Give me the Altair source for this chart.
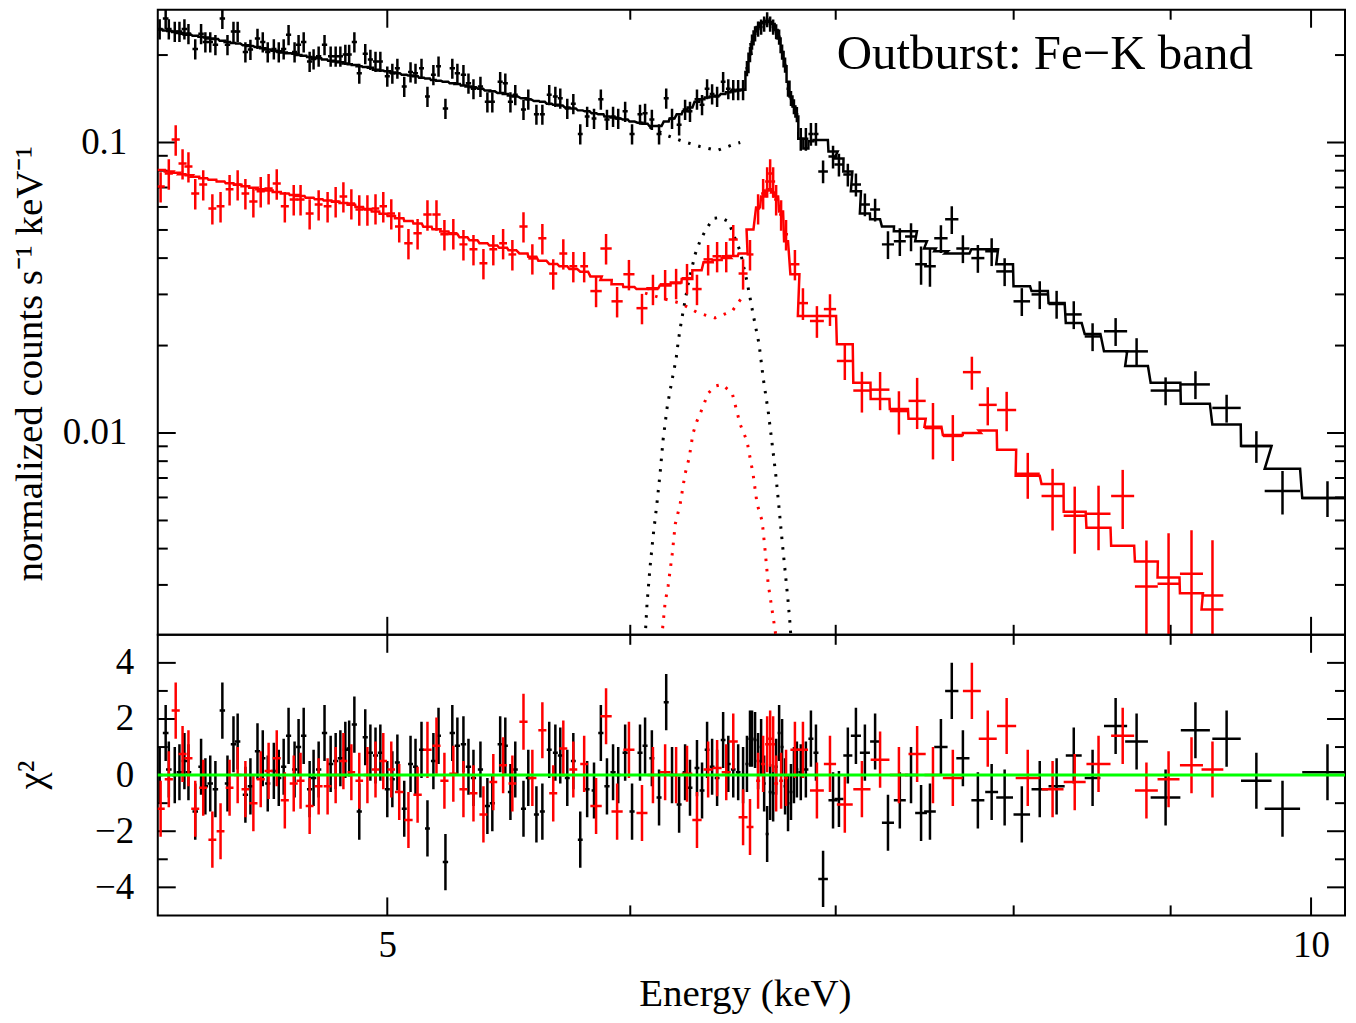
import altair as alt
import pandas as pd

FONT = "Liberation Serif"
W = 1189
HT = 626
HR = 281

# ---------------- black data set (energy keV, half width, flux, rel. error, model, chi) ----------------
black_e = [
    4.215, 4.234, 4.244, 4.263, 4.278, 4.294, 4.307, 4.329, 4.348, 4.362,
    4.378, 4.395, 4.418, 4.435, 4.455, 4.469, 4.495, 4.512, 4.536, 4.554,
    4.571, 4.592, 4.609, 4.626, 4.643, 4.664, 4.678, 4.696, 4.717, 4.731,
    4.749, 4.770, 4.792, 4.810, 4.827, 4.845, 4.859, 4.878, 4.896, 4.918,
    4.937, 4.956, 4.974, 5.000, 5.019, 5.038, 5.064, 5.088, 5.107, 5.130,
    5.153, 5.176, 5.196, 5.223, 5.250, 5.270, 5.294, 5.314, 5.334, 5.362,
    5.390, 5.410, 5.442, 5.463, 5.484, 5.504, 5.538, 5.558, 5.592, 5.617,
    5.646, 5.672, 5.693, 5.723, 5.749, 5.779, 5.809, 5.839, 5.869, 5.896,
    5.923, 5.946, 5.977, 6.008, 6.044, 6.067, 6.098, 6.131, 6.164, 6.191,
    6.224, 6.252, 6.275, 6.308, 6.332, 6.356, 6.380, 6.404, 6.433, 6.458,
    6.482, 6.506, 6.530, 6.549, 6.564, 6.574, 6.589, 6.604, 6.619, 6.634,
    6.649, 6.664, 6.679, 6.694, 6.709, 6.724, 6.739, 6.754, 6.769, 6.784,
    6.799, 6.819, 6.845, 6.871, 6.897, 6.934, 6.986, 7.017, 7.064, 7.107,
    7.155, 7.210, 7.280, 7.345, 7.407, 7.463, 7.513, 7.575, 7.637, 7.701,
    7.788, 7.869, 7.946, 8.049, 8.158, 8.262, 8.369, 8.488, 8.636, 8.773,
    8.966, 9.169, 9.386, 9.598, 9.788, 10.124,
]
black_de = [
    0.009, 0.009, 0.009, 0.009, 0.009, 0.009, 0.009, 0.009, 0.009, 0.009,
    0.009, 0.009, 0.009, 0.009, 0.009, 0.009, 0.009, 0.009, 0.009, 0.009,
    0.009, 0.009, 0.009, 0.009, 0.009, 0.009, 0.009, 0.0095, 0.0095, 0.0095,
    0.0095, 0.0095, 0.0095, 0.0095, 0.0095, 0.0095, 0.0095, 0.0095, 0.0095, 0.0095,
    0.0095, 0.0095, 0.0095, 0.0095, 0.0095, 0.0095, 0.0095, 0.0095, 0.0095, 0.0095,
    0.0095, 0.0095, 0.0095, 0.0105, 0.0105, 0.0105, 0.0105, 0.0105, 0.0105, 0.0105,
    0.0105, 0.0105, 0.0105, 0.0105, 0.0105, 0.0105, 0.0105, 0.0105, 0.0105, 0.0105,
    0.0105, 0.0105, 0.0105, 0.0105, 0.0105, 0.0105, 0.0105, 0.0105, 0.0115, 0.0115,
    0.0115, 0.0115, 0.0115, 0.0115, 0.0115, 0.0115, 0.0115, 0.0115, 0.0115, 0.0115,
    0.0115, 0.0115, 0.0115, 0.0115, 0.0115, 0.0115, 0.0115, 0.0115, 0.0115, 0.0115,
    0.0115, 0.0115, 0.0115, 0.0075, 0.0075, 0.0075, 0.0075, 0.0075, 0.0075, 0.0075,
    0.0075, 0.0075, 0.0075, 0.0075, 0.0075, 0.0075, 0.0075, 0.0075, 0.0075, 0.0075,
    0.0075, 0.013, 0.013, 0.013, 0.013, 0.025, 0.024, 0.024, 0.024, 0.027,
    0.027, 0.027, 0.033, 0.033, 0.033, 0.033, 0.033, 0.038, 0.038, 0.038,
    0.038, 0.038, 0.05, 0.05, 0.05, 0.05, 0.05, 0.05, 0.075, 0.075,
    0.10, 0.10, 0.10, 0.11, 0.13, 0.19,
]
black_flux = [
    0.246, 0.267, 0.246, 0.241, 0.241, 0.246, 0.237, 0.210, 0.237, 0.222,
    0.222, 0.217, 0.267, 0.217, 0.241, 0.241, 0.205, 0.209, 0.228, 0.222,
    0.205, 0.210, 0.205, 0.210, 0.235, 0.205, 0.217, 0.222, 0.190, 0.194,
    0.198, 0.217, 0.198, 0.198, 0.198, 0.201, 0.201, 0.222, 0.173, 0.202,
    0.193, 0.190, 0.190, 0.169, 0.173, 0.180, 0.156, 0.175, 0.173, 0.180,
    0.144, 0.171, 0.183, 0.131, 0.180, 0.173, 0.171, 0.160, 0.153, 0.156,
    0.138, 0.138, 0.162, 0.160, 0.138, 0.146, 0.130, 0.141, 0.125, 0.125,
    0.146, 0.144, 0.142, 0.131, 0.136, 0.107, 0.123, 0.121, 0.141, 0.120,
    0.123, 0.121, 0.128, 0.107, 0.125, 0.126, 0.120, 0.107, 0.142, 0.121,
    0.115, 0.130, 0.128, 0.141, 0.135, 0.153, 0.147, 0.144, 0.162, 0.153,
    0.152, 0.152, 0.152, 0.180, 0.201, 0.222, 0.237, 0.246, 0.250, 0.256,
    0.265, 0.256, 0.250, 0.241, 0.231, 0.205, 0.185, 0.153, 0.142, 0.133,
    0.125, 0.103, 0.103, 0.107, 0.107, 0.0795, 0.0895, 0.084, 0.0776, 0.0717,
    0.0612, 0.0588, 0.0446, 0.0457, 0.0475, 0.0381, 0.0375, 0.0468, 0.0544, 0.0432,
    0.0400, 0.0422, 0.0360, 0.0284, 0.0300, 0.0278, 0.0256, 0.0215, 0.0224, 0.0191,
    0.0140, 0.0147, 0.0122, 0.00902, 0.00632, 0.00598,
]
black_rel = [
    0.08, 0.08, 0.08, 0.08, 0.08, 0.08, 0.08, 0.08, 0.08, 0.08,
    0.08, 0.08, 0.08, 0.08, 0.08, 0.08, 0.08, 0.08, 0.08, 0.08,
    0.08, 0.08, 0.08, 0.08, 0.08, 0.08, 0.08, 0.08, 0.08, 0.08,
    0.08, 0.08, 0.08, 0.08, 0.08, 0.08, 0.08, 0.08, 0.08, 0.08,
    0.08, 0.08, 0.08, 0.08, 0.08, 0.08, 0.08, 0.08, 0.08, 0.08,
    0.08, 0.08, 0.08, 0.08, 0.08, 0.08, 0.08, 0.08, 0.08, 0.08,
    0.08, 0.08, 0.08, 0.08, 0.08, 0.08, 0.08, 0.08, 0.08, 0.08,
    0.08, 0.08, 0.08, 0.08, 0.08, 0.08, 0.08, 0.08, 0.08, 0.08,
    0.08, 0.08, 0.08, 0.08, 0.08, 0.08, 0.08, 0.08, 0.08, 0.08,
    0.08, 0.08, 0.08, 0.08, 0.08, 0.08, 0.08, 0.08, 0.08, 0.08,
    0.08, 0.08, 0.08, 0.06, 0.06, 0.06, 0.06, 0.06, 0.06, 0.06,
    0.06, 0.06, 0.06, 0.06, 0.06, 0.06, 0.06, 0.06, 0.06, 0.06,
    0.06, 0.09, 0.09, 0.09, 0.09, 0.09, 0.09, 0.09, 0.09, 0.09,
    0.09, 0.09, 0.11, 0.11, 0.11, 0.15, 0.15, 0.11, 0.11, 0.11,
    0.11, 0.11, 0.11, 0.11, 0.11, 0.11, 0.11, 0.11, 0.11, 0.11,
    0.11, 0.11, 0.11, 0.125, 0.17, 0.14,
]
black_model = [
    0.245, 0.243, 0.242, 0.240, 0.238, 0.237, 0.235, 0.233, 0.231, 0.230,
    0.228, 0.227, 0.224, 0.222, 0.220, 0.219, 0.216, 0.215, 0.213, 0.211,
    0.209, 0.207, 0.206, 0.204, 0.203, 0.202, 0.200, 0.199, 0.197, 0.196,
    0.195, 0.193, 0.191, 0.190, 0.189, 0.187, 0.186, 0.185, 0.183, 0.182,
    0.181, 0.178, 0.177, 0.176, 0.174, 0.173, 0.171, 0.170, 0.169, 0.167,
    0.166, 0.164, 0.163, 0.162, 0.160, 0.159, 0.157, 0.156, 0.155, 0.153,
    0.151, 0.150, 0.148, 0.147, 0.145, 0.144, 0.142, 0.141, 0.139, 0.138,
    0.136, 0.135, 0.134, 0.132, 0.131, 0.129, 0.128, 0.126, 0.125, 0.123,
    0.122, 0.121, 0.120, 0.118, 0.117, 0.116, 0.114, 0.114, 0.118, 0.121,
    0.125, 0.128, 0.132, 0.138, 0.141, 0.143, 0.144, 0.145, 0.147, 0.149,
    0.150, 0.151, 0.152, 0.175, 0.202, 0.218, 0.241, 0.250, 0.258, 0.260,
    0.262, 0.260, 0.256, 0.244, 0.228, 0.205, 0.183, 0.162, 0.144, 0.133,
    0.123, 0.103, 0.0954, 0.101, 0.102, 0.102, 0.0931, 0.0881, 0.0795, 0.0679,
    0.0570, 0.0544, 0.0514, 0.0495, 0.0495, 0.0457, 0.0432, 0.0422, 0.0415, 0.0415,
    0.0429, 0.0429, 0.0381, 0.0320, 0.0308, 0.0280, 0.0239, 0.0219, 0.0191, 0.0170,
    0.0149, 0.0126, 0.0107, 0.00902, 0.00753, 0.00598,
]
black_chi = [
    0.0, 1.5, 0.2, 0.0, 0.1, 0.5, 0.1, -1.3, 0.3, -0.4,
    -0.3, -0.5, 2.3, -0.3, 1.1, 1.2, -0.7, -0.4, 0.85, 0.6,
    -0.3, 0.15, -0.1, 0.3, 1.4, 0.2, 1.0, 1.4, -0.5, -0.1,
    0.2, 1.5, 0.4, 0.5, 0.6, 0.9, 0.95, 1.8, -1.3, 1.35,
    0.8, 0.7, 0.8, -0.5, -0.15, 0.45, -1.2, 0.4, 0.3, 0.9,
    -1.9, 0.5, 1.4, -3.1, 1.5, 1.05, 1.1, 0.3, -0.1, 0.2,
    -1.1, -1.0, 1.1, 1.05, -0.6, 0.2, -1.2, -0.1, -1.4, -1.3,
    0.9, 0.8, 0.7, -0.1, 0.5, -2.3, -0.5, -0.55, 1.5, -0.4,
    0.1, 0.0, 0.8, -1.3, 0.8, 1.05, 0.6, -0.8, 2.6, 0.0,
    -1.05, 0.1, -0.45, 0.25, -0.55, 0.9, 0.3, -0.1, 1.25, 0.4,
    0.2, 0.1, 0.0, 0.4, 1.3, 1.3, 1.25, 0.5, 1.0, -0.3,
    -2.1, -0.6, -0.65, 0.3, 1.5, 1.0, -0.4, -1.0, -0.6, 0.0,
    0.2, 0.1, 0.2, 1.3, 0.8, -3.7, -0.9, -0.85, 0.7, 1.4,
    0.8, 1.2, -1.7, -0.9, 0.0, -1.35, -1.3, 1.0, 3.0, 0.6,
    -0.9, -0.6, -0.8, -1.4, -0.5, -0.4, 0.7, -0.1, 1.75, 1.2,
    -0.8, 1.6, 1.3, -0.2, -1.2, 0.1,
]

# ---------------- red data set ----------------
red_e = [
    4.218, 4.244, 4.266, 4.288, 4.307, 4.329, 4.355, 4.385, 4.412, 4.442,
    4.469, 4.495, 4.522, 4.547, 4.574, 4.602, 4.630, 4.661, 4.685, 4.717,
    4.749, 4.781, 4.810, 4.838, 4.867, 4.896, 4.926, 4.956, 4.985, 5.015,
    5.045, 5.080, 5.115, 5.153, 5.188, 5.219, 5.254, 5.294, 5.334, 5.374,
    5.414, 5.454, 5.492, 5.538, 5.575, 5.617, 5.663, 5.706, 5.749, 5.796,
    5.848, 5.892, 5.941, 5.994, 6.053, 6.103, 6.159, 6.210, 6.261, 6.308,
    6.361, 6.404, 6.448, 6.482, 6.530, 6.564, 6.604, 6.629, 6.649, 6.664,
    6.679, 6.694, 6.719, 6.744, 6.789, 6.830, 6.902, 6.970, 7.048, 7.139,
    7.237, 7.340, 7.441, 7.530, 7.643, 7.753, 7.846, 7.958, 8.085, 8.237,
    8.375, 8.526, 8.682, 8.838, 8.986, 9.142, 9.287,
]
red_de = [
    0.013, 0.013, 0.013, 0.013, 0.013, 0.013, 0.013, 0.013, 0.013, 0.013,
    0.013, 0.013, 0.014, 0.014, 0.014, 0.014, 0.014, 0.014, 0.014, 0.014,
    0.014, 0.014, 0.014, 0.014, 0.014, 0.014, 0.014, 0.014, 0.014, 0.014,
    0.016, 0.016, 0.016, 0.016, 0.016, 0.016, 0.016, 0.016, 0.016, 0.016,
    0.016, 0.016, 0.016, 0.017, 0.017, 0.017, 0.017, 0.017, 0.017, 0.017,
    0.025, 0.025, 0.025, 0.025, 0.025, 0.025, 0.025, 0.025, 0.025, 0.022,
    0.022, 0.022, 0.022, 0.022, 0.022, 0.017, 0.010, 0.010, 0.010, 0.010,
    0.010, 0.010, 0.010, 0.010, 0.023, 0.026, 0.036, 0.032, 0.042, 0.046,
    0.051, 0.050, 0.048, 0.048, 0.057, 0.052, 0.053, 0.057, 0.073, 0.068,
    0.069, 0.077, 0.075, 0.076, 0.074, 0.079, 0.076,
]
red_flux = [
    0.0706, 0.0782, 0.1024, 0.0847, 0.0827, 0.0668, 0.0717, 0.0593, 0.0603, 0.0690,
    0.0717, 0.0668, 0.0627, 0.0679, 0.0695, 0.0722, 0.0603, 0.0637, 0.0637, 0.0570,
    0.0612, 0.0603, 0.0627, 0.0652, 0.0617, 0.0588, 0.0588, 0.0593, 0.0603, 0.0570,
    0.0514, 0.0450, 0.0487, 0.0565, 0.0565, 0.0483, 0.0487, 0.0446, 0.0429, 0.0384,
    0.0429, 0.0450, 0.0412, 0.0514, 0.0399, 0.0468, 0.0354, 0.0415, 0.0375, 0.0375,
    0.0308, 0.0432, 0.0284, 0.0352, 0.0269, 0.0313, 0.0325, 0.0328, 0.0341, 0.0313,
    0.0396, 0.0406, 0.0406, 0.0464, 0.0354, 0.0412, 0.0593, 0.0668, 0.0734, 0.0782,
    0.0734, 0.0637, 0.0565, 0.0483, 0.0381, 0.0280, 0.0243, 0.0267, 0.0177, 0.0140,
    0.0141, 0.0119, 0.0129, 0.0104, 0.00977, 0.0162, 0.0125, 0.0120, 0.00724, 0.00607,
    0.00519, 0.00527, 0.00607, 0.00296, 0.00303, 0.00328, 0.00276,
]
red_rel = [
    0.12, 0.12, 0.12, 0.12, 0.12, 0.12, 0.12, 0.12, 0.12, 0.12,
    0.12, 0.12, 0.12, 0.12, 0.12, 0.12, 0.12, 0.12, 0.12, 0.12,
    0.12, 0.12, 0.12, 0.12, 0.12, 0.12, 0.12, 0.12, 0.12, 0.12,
    0.12, 0.12, 0.12, 0.12, 0.12, 0.12, 0.12, 0.12, 0.12, 0.12,
    0.12, 0.12, 0.12, 0.12, 0.12, 0.12, 0.12, 0.12, 0.12, 0.12,
    0.12, 0.12, 0.12, 0.12, 0.12, 0.12, 0.12, 0.12, 0.12, 0.12,
    0.12, 0.12, 0.12, 0.12, 0.12, 0.12, 0.12, 0.12, 0.12, 0.12,
    0.12, 0.12, 0.12, 0.12, 0.12, 0.125, 0.125, 0.125, 0.14, 0.16,
    0.15, 0.17, 0.20, 0.22, 0.18, 0.13, 0.15, 0.155, 0.18, 0.24,
    0.26, 0.25, 0.23, 0.44, 0.49, 0.41, 0.55,
]
red_model = [
    0.0804, 0.0795, 0.0787, 0.0778, 0.0771, 0.0763, 0.0754, 0.0744, 0.0734, 0.0724,
    0.0715, 0.0707, 0.0699, 0.0691, 0.0683, 0.0675, 0.0667, 0.0660, 0.0654, 0.0646,
    0.0638, 0.0631, 0.0625, 0.0619, 0.0611, 0.0600, 0.0590, 0.0579, 0.0569, 0.0559,
    0.0549, 0.0537, 0.0526, 0.0513, 0.0503, 0.0494, 0.0484, 0.0472, 0.0461, 0.0450,
    0.0442, 0.0434, 0.0426, 0.0415, 0.0404, 0.0392, 0.0382, 0.0375, 0.0367, 0.0359,
    0.0346, 0.0336, 0.0325, 0.0318, 0.0313, 0.0315, 0.0322, 0.0330, 0.0339, 0.0363,
    0.0387, 0.0394, 0.0400, 0.0407, 0.0415, 0.0502, 0.0598, 0.0652, 0.0684, 0.0690,
    0.0673, 0.0652, 0.0579, 0.0457, 0.0352, 0.0253, 0.0253, 0.0253, 0.0202, 0.0149,
    0.0131, 0.0121, 0.0112, 0.0105, 0.00985, 0.0100, 0.0102, 0.00875, 0.00712, 0.00668,
    0.00536, 0.00472, 0.00409, 0.00361, 0.00318, 0.00281, 0.00247,
]
red_chi = [
    -1.2, -0.15, 2.3, 0.75, 0.6, -1.2, -0.45, -2.3, -2.0, -0.45,
    0.0, -0.5, -1.0, -0.15, 0.15, 0.6, -0.9, -0.3, -0.2, -1.1,
    -0.4, -0.4, 0.0, 0.5, 0.1, -0.2, 0.0, 0.2, 0.5, 0.2,
    -0.6, -1.6, -0.7, 0.9, 1.05, -0.2, 0.05, -0.5, -0.65, -1.4,
    -0.25, 0.35, -0.3, 1.9, -0.1, 1.6, -0.65, 0.95, 0.2, 0.4,
    -1.1, 2.1, -1.3, 0.9, -1.35, 0.0, 0.1, 0.0, 0.05, -1.6,
    0.2, 0.25, 0.1, 1.2, -1.5, -1.85, -0.2, 0.4, 1.1, 1.3,
    1.1, -0.3, -0.2, -0.1, 0.9, 0.9, -0.55, 0.4, -1.05, -0.5,
    0.55, 0.0, 0.75, 0.0, -0.1, 3.0, 1.3, 1.75, -0.1, -0.5,
    -0.25, 0.4, 1.4, -0.55, -0.15, 0.35, 0.2,
]

# ---------------- model components (dotted) ----------------
bgauss_e = [6.067, 6.076, 6.089, 6.103, 6.121, 6.136, 6.150, 6.168, 6.182, 6.196,
            6.210, 6.220, 6.229, 6.243, 6.266, 6.299, 6.322, 6.346, 6.385, 6.419,
            6.458, 6.516, 6.549, 6.579, 6.609, 6.629, 6.654, 6.674, 6.694, 6.709,
            6.724, 6.739, 6.754, 6.764, 6.769]
bgauss_f = [0.00196, 0.00259, 0.00341, 0.00436, 0.00570, 0.00729, 0.00954, 0.0122, 0.0140, 0.0159,
            0.0180, 0.0207, 0.0229, 0.0263, 0.0325, 0.0412, 0.0457, 0.0495, 0.0548, 0.0552,
            0.0535, 0.0422, 0.0333, 0.0257, 0.0202, 0.0155, 0.0119, 0.00917, 0.00700, 0.00549,
            0.00426, 0.00336, 0.00265, 0.00221, 0.00196]
rgauss_e = [6.141, 6.145, 6.159, 6.173, 6.192, 6.206, 6.229, 6.252, 6.271, 6.289,
            6.308, 6.332, 6.361, 6.394, 6.428, 6.477, 6.516, 6.549, 6.579, 6.599,
            6.624, 6.639, 6.654, 6.674, 6.689, 6.694]
rgauss_f = [0.00196, 0.00204, 0.00261, 0.00298, 0.00384, 0.00486, 0.00570, 0.00724, 0.00820, 0.00996,
            0.0110, 0.0121, 0.0137, 0.0145, 0.0147, 0.0137, 0.0107, 0.00939, 0.00724, 0.00570,
            0.00498, 0.00393, 0.00303, 0.00245, 0.00209, 0.00196]
bcont_e = [6.044, 6.112, 6.168, 6.243, 6.322, 6.404, 6.482, 6.516]
bcont_f = [0.1172, 0.1108, 0.1057, 0.1008, 0.0969, 0.0939, 0.0984, 0.100]
rcont_e = [6.067, 6.159, 6.229, 6.313, 6.394, 6.477, 6.540]
rcont_f = [0.0303, 0.0289, 0.0280, 0.0259, 0.0249, 0.0263, 0.0303]

# ---------------- axis ticks ----------------
x_major = [5, 10]
x_minor = [6, 7, 8, 9]
top_y_major = [0.01, 0.1]
top_y_minor = [0.003, 0.004, 0.005, 0.006, 0.007, 0.008, 0.009,
               0.02, 0.03, 0.04, 0.05, 0.06, 0.07, 0.08, 0.09, 0.2]
res_major = [-4, -2, 0, 2, 4]
res_minor = [-3, -1, 1, 3]
annotation = "Outburst: Fe\u2212K band"

BAR_W = 2.5


def data_frame(e, de, f, rel, m, chi):
    df = pd.DataFrame({"e": e, "de": de, "f": f, "rel": rel, "m": m, "chi": chi})
    df["e_lo"] = df["e"] - df["de"]
    df["e_hi"] = df["e"] + df["de"]
    df["f_lo"] = df["f"] * (1 - df["rel"])
    df["f_hi"] = df["f"] * (1 + df["rel"])
    df["c_lo"] = df["chi"] - 1
    df["c_hi"] = df["chi"] + 1
    return df


def step_frame(df):
    xs, ys, os = [], [], []
    for i, r in enumerate(df.itertuples()):
        xs += [r.e_lo, r.e_hi]
        ys += [r.m, r.m]
        os += [2 * i, 2 * i + 1]
    return pd.DataFrame({"x": xs, "y": ys, "o": os})


black = data_frame(black_e, black_de, black_flux, black_rel, black_model, black_chi)
red = data_frame(red_e, red_de, red_flux, red_rel, red_model, red_chi)

xscale = alt.Scale(type="log", domain=[4.209, 10.258], nice=False)
yscale_top = alt.Scale(type="log", domain=[0.00202, 0.2864], nice=False)
yscale_res = alt.Scale(domain=[-5, 5], nice=False, zero=False)

yaxis_top = alt.Axis(values=top_y_major, labelExpr="datum.value < 0.05 ? '0.01' : '0.1'",
                     title="normalized counts s\u207b\u00b9 keV\u207b\u00b9",
                     ticks=False, tickSize=0, domain=False, grid=False,
                     labelFont=FONT, labelFontSize=37, labelColor="black", labelPadding=31,
                     titleFont=FONT, titleFontSize=39, titleFontWeight="normal", titleColor="black",
                     titleX=-128, titleY=354, titleBaseline="middle", titleAngle=270)
yaxis_res = alt.Axis(values=res_major,
                     labelExpr="datum.value < 0 ? '\u2212' + abs(datum.value) : '' + datum.value",
                     title="\u03c7\u00b2",
                     ticks=False, tickSize=0, domain=False, grid=False,
                     labelFont=FONT, labelFontSize=37, labelColor="black", labelPadding=24,
                     titleFont=FONT, titleFontSize=39, titleFontWeight="normal", titleColor="black",
                     titleX=-126, titleY=140, titleBaseline="middle", titleAngle=270)
xaxis_res = alt.Axis(values=x_major, labelExpr="'' + datum.value",
                     title="Energy (keV)",
                     ticks=False, tickSize=0, domain=False, grid=False,
                     labelFont=FONT, labelFontSize=37, labelColor="black", labelPadding=12,
                     titleFont=FONT, titleFontSize=39, titleFontWeight="normal", titleColor="black",
                     titleX=588, titleY=78, titleBaseline="middle")


def tick_layers(yscale, yaxis, xaxis, ymaj, ymin, H):
    layers = []
    for vals, L in [(ymaj, 18), (ymin, 10)]:
        d = pd.DataFrame({"v": vals})
        base = alt.Chart(d).mark_rule(color="black", strokeWidth=2)
        layers.append(base.encode(y=alt.Y("v:Q", scale=yscale, axis=yaxis),
                                  x=alt.value(0), x2=alt.value(L)))
        layers.append(base.encode(y=alt.Y("v:Q", scale=yscale, axis=yaxis),
                                  x=alt.value(W - L), x2=alt.value(W)))
    for vals, L in [(x_major, 18), (x_minor, 10)]:
        d = pd.DataFrame({"v": vals})
        base = alt.Chart(d).mark_rule(color="black", strokeWidth=2)
        layers.append(base.encode(x=alt.X("v:Q", scale=xscale, axis=xaxis),
                                  y=alt.value(0), y2=alt.value(L)))
        layers.append(base.encode(x=alt.X("v:Q", scale=xscale, axis=xaxis),
                                  y=alt.value(H - L), y2=alt.value(H)))
    return layers


def top_layers(df, color):
    out = []
    out.append(alt.Chart(df).mark_rule(color=color, strokeWidth=BAR_W, clip=True).encode(
        x=alt.X("e_lo:Q", scale=xscale, axis=None), x2="e_hi:Q",
        y=alt.Y("f:Q", scale=yscale_top, axis=yaxis_top)))
    out.append(alt.Chart(df).mark_rule(color=color, strokeWidth=BAR_W, clip=True).encode(
        x=alt.X("e:Q", scale=xscale, axis=None),
        y=alt.Y("f_lo:Q", scale=yscale_top, axis=yaxis_top), y2="f_hi:Q"))
    out.append(alt.Chart(step_frame(df)).mark_line(color=color, strokeWidth=2.5, clip=True).encode(
        x=alt.X("x:Q", scale=xscale, axis=None),
        y=alt.Y("y:Q", scale=yscale_top, axis=yaxis_top),
        order="o:Q"))
    return out


def dotted(e, f, color):
    d = pd.DataFrame({"e": e, "f": f, "o": list(range(len(e)))})
    return alt.Chart(d).mark_line(color=color, strokeWidth=3, strokeDash=[2.5, 8], clip=True).encode(
        x=alt.X("e:Q", scale=xscale, axis=None),
        y=alt.Y("f:Q", scale=yscale_top, axis=yaxis_top),
        order="o:Q")


def res_layers(df, color):
    out = []
    out.append(alt.Chart(df).mark_rule(color=color, strokeWidth=BAR_W, clip=True).encode(
        x=alt.X("e_lo:Q", scale=xscale, axis=xaxis_res), x2="e_hi:Q",
        y=alt.Y("chi:Q", scale=yscale_res, axis=yaxis_res)))
    out.append(alt.Chart(df).mark_rule(color=color, strokeWidth=BAR_W, clip=True).encode(
        x=alt.X("e:Q", scale=xscale, axis=xaxis_res),
        y=alt.Y("c_lo:Q", scale=yscale_res, axis=yaxis_res), y2="c_hi:Q"))
    return out


text_layer = alt.Chart(pd.DataFrame({"t": [annotation]})).mark_text(
    font=FONT, fontSize=49, align="left", baseline="alphabetic", color="black").encode(
    text="t:N", x=alt.value(680), y=alt.value(59))

top = alt.layer(
    *tick_layers(yscale_top, yaxis_top, None, top_y_major, top_y_minor, HT),
    dotted(bcont_e, bcont_f, "black"),
    dotted(bgauss_e, bgauss_f, "black"),
    dotted(rcont_e, rcont_f, "red"),
    dotted(rgauss_e, rgauss_f, "red"),
    *top_layers(black, "black"),
    *top_layers(red, "red"),
    text_layer,
).properties(width=W, height=HT)

zero = alt.Chart(pd.DataFrame({"z": [0]})).mark_rule(color="#00ff00", strokeWidth=3).encode(
    y=alt.Y("z:Q", scale=yscale_res, axis=yaxis_res))

bottom = alt.layer(
    *tick_layers(yscale_res, yaxis_res, xaxis_res, res_major, res_minor, HR),
    *res_layers(black, "black"),
    *res_layers(red, "red"),
    zero,
).properties(width=W, height=HR)

chart = alt.vconcat(top, bottom, spacing=0, bounds="flush").properties(
    padding={"left": 2, "top": -1, "right": 0, "bottom": 0}
).configure_view(stroke="black", strokeWidth=2).configure_axis(labelFontWeight="normal")

chart.save("out.html", embed_options={"renderer": "svg", "actions": False})
